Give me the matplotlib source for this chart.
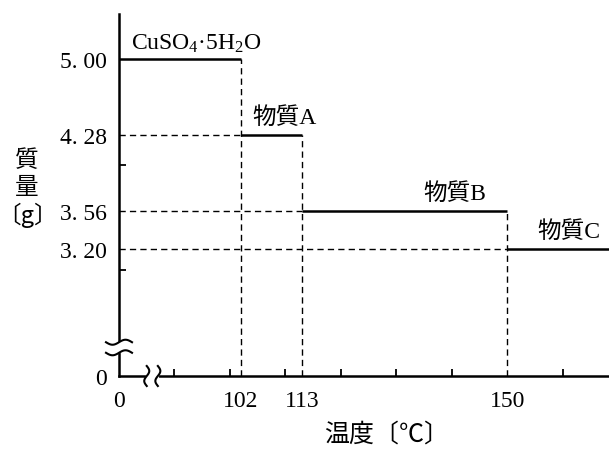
import numpy as np
import matplotlib
matplotlib.use("Agg")
import matplotlib.pyplot as plt

# data
temps = [102, 113, 150]                  # transition temperatures (°C)
masses = [5.00, 4.28, 3.56, 3.20]        # mass (g) on each plateau
names = ["CuSO$_4$·5H$_2$O", "物質A", "物質B", "物質C"]
xtick_vals = [0, 102, 113, 150]
ytick_vals = [0, 3.20, 3.56, 4.28, 5.00]
ytick_text = ["0", "3. 20", "3. 56", "4. 28", "5. 00"]

# broken axes: where "0" is drawn
X0, Y0 = 80, 2.0
X_END, Y_END = 168.3, 5.43

plt.rcParams['font.family'] = ['Liberation Serif', 'Noto Sans CJK JP']
plt.rcParams['mathtext.default'] = 'regular'

fig = plt.figure(figsize=(6.09, 4.52), dpi=100)
ax = fig.add_axes([119/609, 75/452, 490/609, 362/452])
ax.set_xlim(X0, X_END)
ax.set_ylim(Y0, Y_END)

for s in ['top', 'right']:
    ax.spines[s].set_visible(False)
for s in ['left', 'bottom']:
    ax.spines[s].set_linewidth(1.8)

# plateaus (solid) and guide lines (dashed)
edges = [X0] + temps + [X_END]
dash = dict(color='black', lw=1.0, dashes=(4.5, 3))
for i, m in enumerate(masses):
    ax.plot([edges[i], edges[i + 1]], [m, m], color='black', lw=1.8,
            solid_capstyle='butt')
    if i > 0:
        ax.plot([X0, edges[i]], [m, m], **dash)
for t, m in zip(temps, masses[:-1]):
    ax.plot([t, t], [Y0, m], **dash)

# labels above each plateau
label_pos = [(82.2, 5.10, 'baseline'), (104.0, 4.45, 'center'),
             (134.8, 3.73, 'center'), (155.3, 3.37, 'center')]
for name, (lx, ly, va) in zip(names, label_pos):
    ax.text(lx, ly, name, fontsize=17, va=va, ha='left')

# ticks
ax.set_xticks([X0 if v == 0 else v for v in xtick_vals])
ax.set_xticklabels([str(v) for v in xtick_vals])
ax.set_yticks([Y0 if v == 0 else v for v in ytick_vals])
ax.set_yticklabels(ytick_text)
ax.tick_params(which='major', length=0, labelsize=17)
ax.tick_params(axis='x', which='major', pad=10)
ax.tick_params(axis='y', which='major', pad=9)
ax.set_xticks(np.arange(90, 161, 10), minor=True)
ax.set_yticks([3.0, 4.0], minor=True)
ax.tick_params(which='minor', direction='in', length=5, width=1.3)

# axis break marks
sx = (X_END - X0) / 490   # data per pixel
sy = (Y_END - Y0) / 362
u = np.linspace(-1, 1, 40)
# y axis: two horizontal tildes
for yc in [2.32, 2.22]:
    ax.plot(X0 + u * 13 * sx, yc + 2.5 * sy * np.sin(u * np.pi), color='black',
            lw=1.5, clip_on=False, zorder=5)
ax.plot([X0, X0], [2.235, 2.305], color='white', lw=3, clip_on=False, zorder=4)
# x axis: two vertical squiggles
for xc in [85.0, 87.0]:
    ax.plot(xc + 2.5 * sx * np.sin(u * np.pi), Y0 + u * 10 * sy, color='black',
            lw=1.5, clip_on=False, zorder=5)
ax.plot([85.2, 86.8], [Y0, Y0], color='white', lw=3, clip_on=False, zorder=4)

# axis titles
fig.text(27/609, 1 - 189/452, "質\n量\n〔g〕", fontsize=17, ha='center',
         va='center', multialignment='center', linespacing=1.2,
         family=['Noto Sans CJK JP'])
fig.text(387/609, 1 - 435/452, "温度〔℃〕", fontsize=18, ha='center', va='center')

fig.savefig("out.png", dpi=100)
